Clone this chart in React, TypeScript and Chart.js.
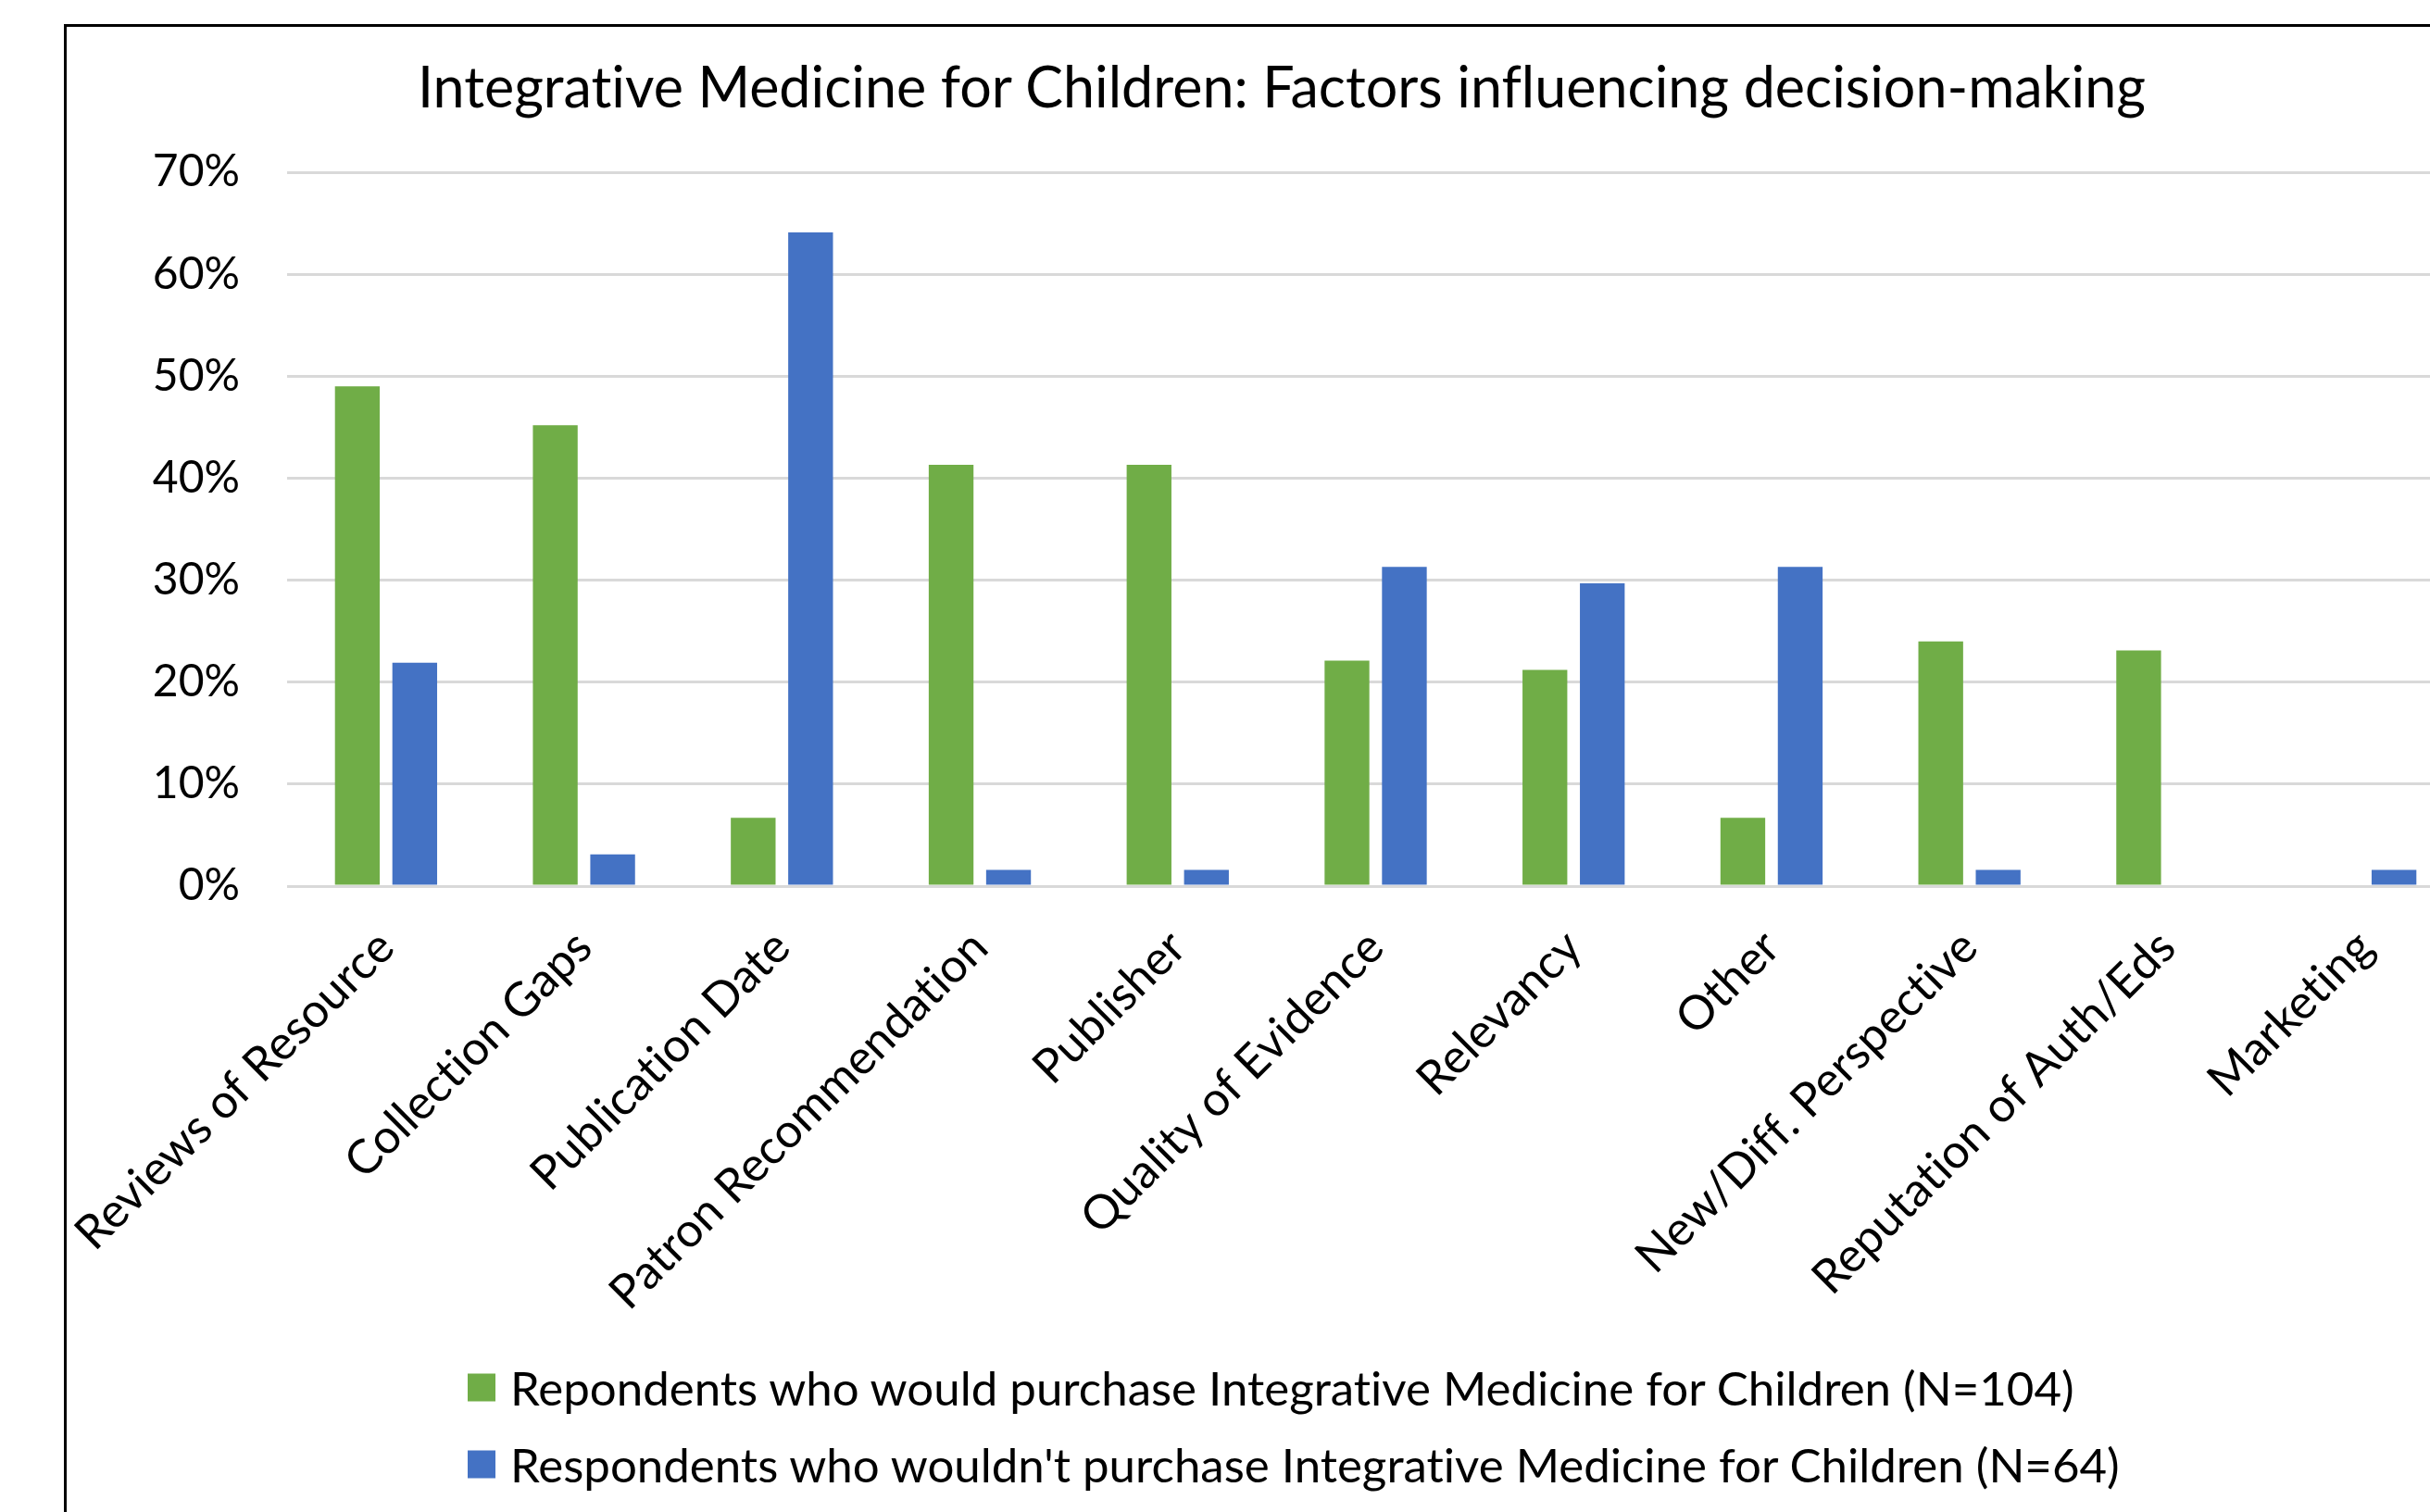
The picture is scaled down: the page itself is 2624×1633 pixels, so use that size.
import React, { useEffect, useRef } from "react";
import { Chart, registerables } from "chart.js";

Chart.register(...registerables);

const TITLE = "Integrative Medicine for Children: Factors influencing decision-making";

const categories = [
  "Reviews of Resource",
  "Collection Gaps",
  "Publication Date",
  "Patron Recommendation",
  "Publisher",
  "Quality of Evidence",
  "Relevancy",
  "Other",
  "New/Diff. Perspective",
  "Reputation of Auth/Eds",
  "Marketing",
];

const wouldLabel = "Repondents who would purchase Integrative Medicine for Children (N=104)";
const wouldntLabel = "Respondents who wouldn't purchase Integrative Medicine for Children (N=64)";

const wouldValues = [49.0, 45.2, 6.7, 41.3, 41.3, 22.1, 21.2, 6.7, 24.0, 23.1, 0];
const wouldntValues = [21.9, 3.1, 64.1, 1.6, 1.6, 31.3, 29.7, 31.3, 1.6, 0, 1.6];

const yTickValues = [0, 10, 20, 30, 40, 50, 60, 70];

const GREEN = "#70AD47";
const BLUE = "#4472C4";
const FONT = "Lato, 'DejaVu Sans', sans-serif";

const noLigatures = {
  id: "noLigatures",
  beforeDraw: (chart: any) => {
    try {
      (chart.ctx as any).letterSpacing = "0.01px";
    } catch (e) {
      /* ignore */
    }
  },
};

export default function App() {
  const canvasRef = useRef<HTMLCanvasElement | null>(null);

  useEffect(() => {
    const canvas = canvasRef.current;
    if (!canvas) return;
    const chart = new Chart(canvas, {
      type: "bar",
      data: {
        labels: categories,
        datasets: [
          {
            label: wouldLabel,
            data: wouldValues,
            backgroundColor: GREEN,
            borderWidth: 0,
            categoryPercentage: 0.58,
            barPercentage: 0.78,
          },
          {
            label: wouldntLabel,
            data: wouldntValues,
            backgroundColor: BLUE,
            borderWidth: 0,
            categoryPercentage: 0.58,
            barPercentage: 0.78,
          },
        ],
      },
      plugins: [noLigatures],
      options: {
        responsive: false,
        animation: false,
        devicePixelRatio: 1,
        layout: { padding: { left: 0, right: 139, top: 186, bottom: 76 } },
        plugins: {
          legend: { display: false },
          title: { display: false },
          tooltip: { enabled: false },
        },
        scales: {
          x: {
            offset: true,
            grid: { display: false, drawTicks: false },
            border: { display: false },
            ticks: {
              autoSkip: false,
              maxRotation: 45,
              minRotation: 45,
              padding: 36,
              color: "#000",
              font: { family: FONT, size: 51 },
            },
            afterFit: (scale: any) => {
              scale.height = 600;
            },
          },
          y: {
            min: 0,
            max: 70,
            afterBuildTicks: (scale: any) => {
              scale.ticks = yTickValues.map((v) => ({ value: v }));
            },
            grid: { color: "#D9D9D9", lineWidth: 3, drawTicks: false },
            border: { display: false },
            ticks: {
              padding: 51,
              color: "#000",
              font: { family: FONT, size: 48 },
              callback: (v: any) => `${v}%`,
            },
            afterFit: (scale: any) => {
              scale.width = 310;
            },
          },
        },
      },
    });
    return () => chart.destroy();
  }, []);

  const legendItems = [
    { label: wouldLabel, color: GREEN, y: 1498 },
    { label: wouldntLabel, color: BLUE, y: 1581 },
  ];

  return (
    <div
      style={{
        position: "fixed",
        left: 0,
        top: 0,
        width: "100vw",
        height: "100vh",
        overflow: "hidden",
        background: "#fff",
      }}
    >
      <canvas
        ref={canvasRef}
        width={2800}
        height={1633}
        style={{ position: "absolute", left: 0, top: 0, width: 2800, height: 1633 }}
      />
      <div
        style={{
          position: "absolute",
          left: 69,
          top: 26,
          width: 3000,
          height: 3000,
          border: "3px solid #000",
          boxSizing: "border-box",
          pointerEvents: "none",
        }}
      />
      <div
        style={{
          position: "absolute",
          left: 1384,
          top: 92,
          transform: "translate(-50%, -50%)",
          whiteSpace: "nowrap",
          fontFamily: FONT,
          fontSize: 61,
          color: "#000",
          lineHeight: 1,
          fontVariantLigatures: "none",
        }}
      >
        {TITLE}
      </div>
      {legendItems.map((it) => (
        <div
          key={it.label}
          style={{
            position: "absolute",
            left: 505,
            top: it.y,
            transform: "translateY(-50%)",
            display: "flex",
            alignItems: "center",
            whiteSpace: "nowrap",
            fontFamily: FONT,
            fontSize: 51,
            color: "#000",
            lineHeight: 1,
            fontVariantLigatures: "none",
          }}
        >
          <span
            style={{
              display: "inline-block",
              width: 30,
              height: 30,
              background: it.color,
              marginRight: 16,
            }}
          />
          <span>{it.label}</span>
        </div>
      ))}
    </div>
  );
}
